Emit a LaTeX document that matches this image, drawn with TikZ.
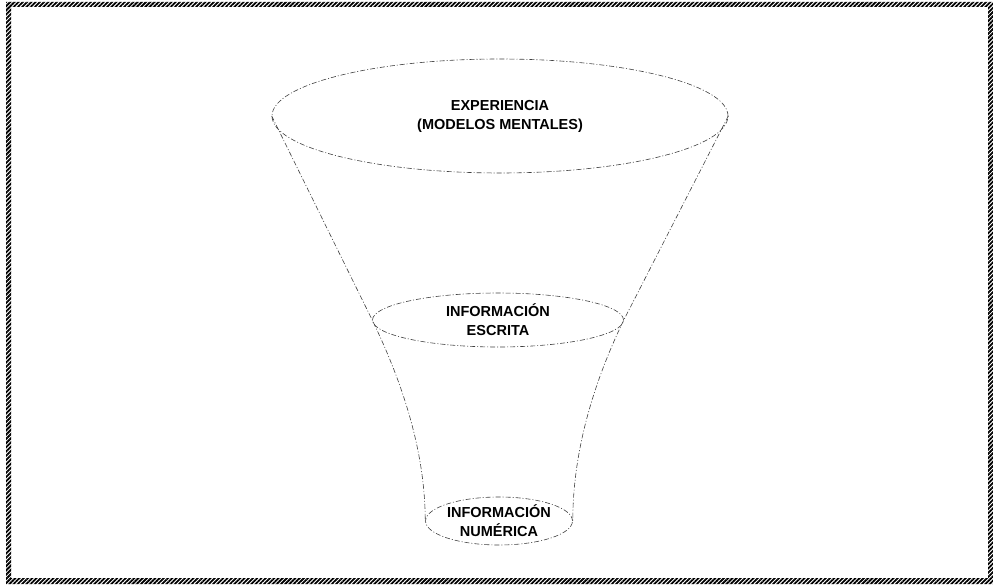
\documentclass[tikz,border=0pt]{standalone}
\usepackage{fontspec}
\setmainfont{Liberation Sans}
\usetikzlibrary{shapes.geometric,patterns.meta}
\begin{document}
\begin{tikzpicture}[x=1pt,y=-1pt,
  funnel/.style={draw=black!75, line width=0.6pt, dash pattern=on 5pt off 2pt on 1pt off 2pt},
  disc/.style={ellipse, funnel, inner sep=0pt, align=center,
    font=\fontsize{14.5}{19}\selectfont\bfseries},
  side/.style={funnel}]
\useasboundingbox (0,0) rectangle (993,585);
% frame
\fill[pattern={Lines[angle=45,distance=3pt,line width=1.8pt]}, even odd rule]
  (6,2) rectangle (993,584) (11,7) rectangle (988,578);
% discs
\node[disc, minimum width=456pt, minimum height=114pt] (top) at (500,116)
  {EXPERIENCIA\\(MODELOS MENTALES)};
\node[disc, minimum width=251pt, minimum height=54pt] (mid) at (498,320)
  {INFORMACIÓN\\ESCRITA};
\node[disc, minimum width=128pt, minimum height=48pt] (bot) at (499,521)
  {INFORMACIÓN\\NUMÉRICA};
% funnel sides
\draw[side] (top.west) -- (mid.west)
  .. controls ([shift={(30,62)}]mid.west) and ([shift={(0,-70)}]bot.west) .. (bot.west);
\draw[side] (top.east) -- (mid.east)
  .. controls ([shift={(-30,62)}]mid.east) and ([shift={(0,-70)}]bot.east) .. (bot.east);
\end{tikzpicture}
\end{document}
